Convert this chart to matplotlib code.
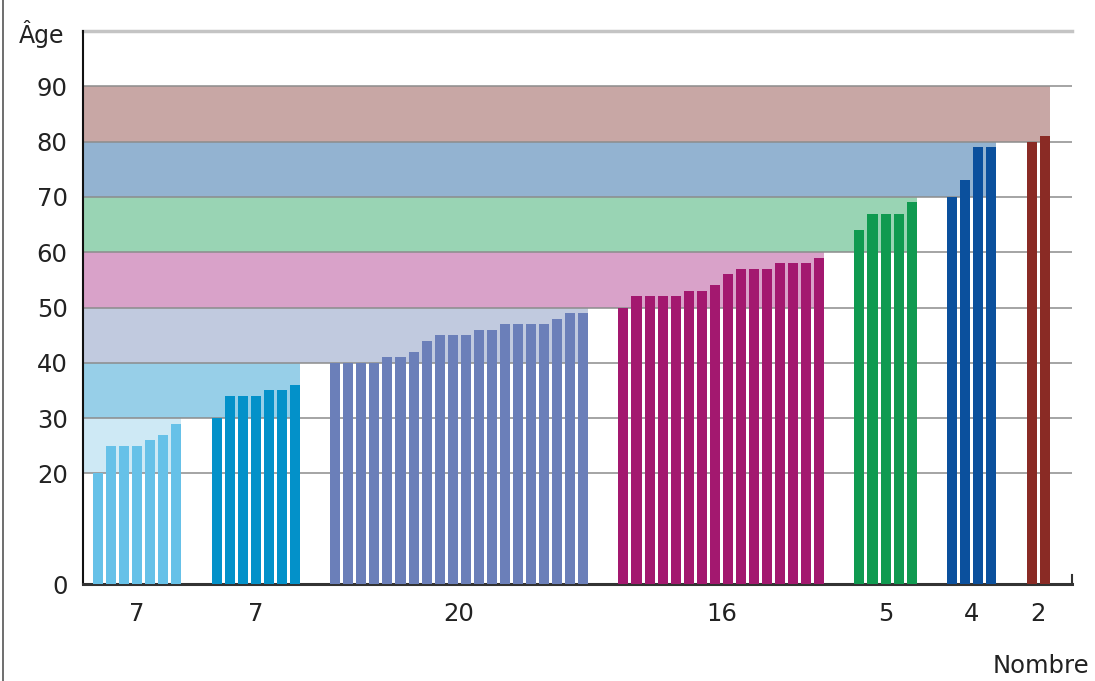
import matplotlib.pyplot as plt
from matplotlib.lines import Line2D

# one bar per person, ages
ages_20s = [20, 25, 25, 25, 26, 27, 29]
ages_30s = [30, 34, 34, 34, 35, 35, 36]
ages_40s = [40, 40, 40, 40, 41, 41, 42, 44, 45, 45, 45, 46, 46, 47, 47, 47, 47, 48, 49, 49]
ages_50s = [50, 52, 52, 52, 52, 53, 53, 54, 56, 57, 57, 57, 58, 58, 58, 59]
ages_60s = [64, 67, 67, 67, 69]
ages_70s = [70, 73, 79, 79]
ages_80s = [80, 81]

groups = [ages_20s, ages_30s, ages_40s, ages_50s, ages_60s, ages_70s, ages_80s]
band_lo = [20, 30, 40, 50, 60, 70, 80]
band_hi = [30, 40, 50, 60, 70, 80, 90]
y_ticks = [0, 20, 30, 40, 50, 60, 70, 80, 90]

bar_colors = ['#66c1e8', '#0391c9', '#6b7fb9', '#a3186f', '#0f9a50', '#0b509d', '#8a2b25']
band_colors = ['#cee9f5', '#97cfe8', '#c1cadf', '#d9a2c9', '#99d4b4', '#93b3d1', '#c8a7a5']

W = 0.77      # bar width
GAP = 3.1     # distance between last bar of a group and first bar of next
X_LEFT = -1.15
X_RIGHT = 74.7

plt.rcParams['font.family'] = 'DejaVu Sans'
fig = plt.figure(figsize=(10.95, 6.81), dpi=100)
ax = fig.add_axes([0.0758, 0.1424, 0.9032, 0.812])

start = 0.0
centers = []
for i, ages in enumerate(groups):
    xs = [start + k for k in range(len(ages))]
    centers.append((xs[0] + xs[-1]) / 2)
    # coloured band for this age range, up to the end of the group
    ax.fill_between([X_LEFT, xs[-1] + W / 2], band_lo[i], band_hi[i],
                    color=band_colors[i], lw=0, zorder=1)
    ax.bar(xs, ages, width=W, color=bar_colors[i], lw=0, zorder=3)
    start = xs[-1] + GAP

for y in y_ticks[1:]:
    ax.axhline(y, color='#8c8c8c', lw=1.1, zorder=2)
ax.axhline(100, color='#c4c4c4', lw=2.5, zorder=2, clip_on=False)

ax.set_xlim(X_LEFT, X_RIGHT)
ax.set_ylim(0, 100)
ax.set_yticks(y_ticks)
ax.set_yticklabels([str(t) for t in y_ticks], fontsize=17.5, color='#222222')
ax.set_xticks(centers)
ax.set_xticklabels([str(len(g)) for g in groups], fontsize=17.5, color='#222222')
ax.tick_params(axis='y', length=0, pad=11)
ax.tick_params(axis='x', length=0, pad=13)

for s in ['top', 'right']:
    ax.spines[s].set_visible(False)
ax.spines['left'].set_color('#111111')
ax.spines['left'].set_linewidth(1.5)
ax.spines['bottom'].set_color('#333333')
ax.spines['bottom'].set_linewidth(2.2)
# little upturned end of the x axis
ax.plot([X_RIGHT, X_RIGHT], [0, 1.6], color='#333333', lw=1.5, clip_on=False, zorder=4)

fig.text(0.038, 0.95, 'Âge', fontsize=17, ha='center', va='center', color='#222222')
fig.text(0.951, 0.022, 'Nombre', fontsize=17.5, ha='center', va='center', color='#222222')

# thin frame line on the left edge
fig.add_artist(Line2D([0.003, 0.003], [0, 1], transform=fig.transFigure, color='#555555', lw=1.2))

fig.savefig('out.png', dpi=100)
